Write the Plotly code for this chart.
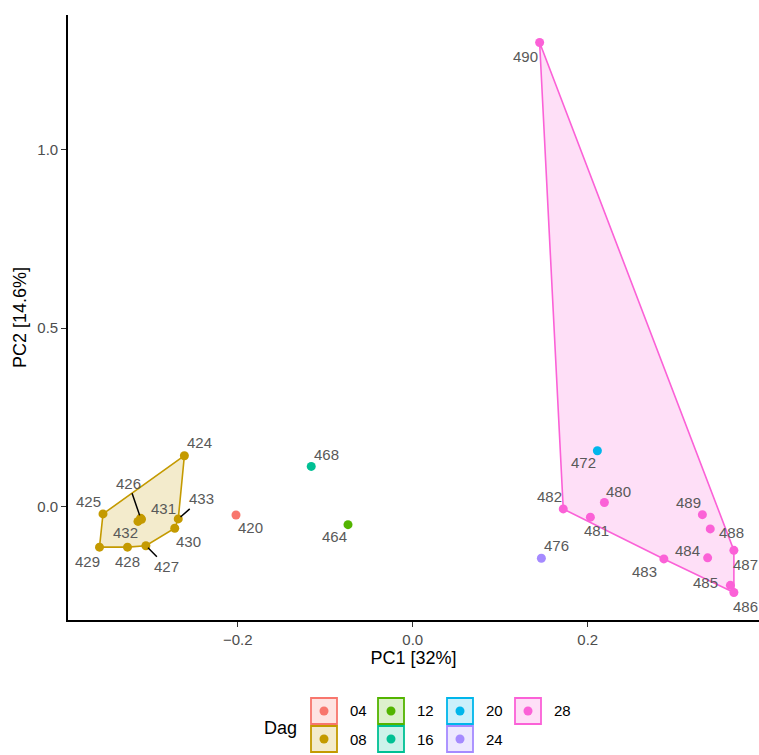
import plotly.graph_objects as go

# ---------------- data ----------------
sample_ids = ["420", "424", "425", "426", "431", "432", "433", "430", "429", "428", "427",
              "464", "468", "472", "476",
              "480", "481", "482", "483", "484", "485", "486", "487", "488", "489", "490"]
dag = ["04", "08", "08", "08", "08", "08", "08", "08", "08", "08", "08",
       "12", "16", "20", "24",
       "28", "28", "28", "28", "28", "28", "28", "28", "28", "28", "28"]
pc1 = [-0.202, -0.261, -0.354, -0.311, -0.310, -0.314, -0.268, -0.272, -0.358, -0.326, -0.305,
       -0.074, -0.116, 0.211, 0.147,
       0.219, 0.203, 0.172, 0.287, 0.337, 0.363, 0.367, 0.367, 0.340, 0.331, 0.145]
pc2 = [-0.023, 0.143, -0.020, -0.032, -0.035, -0.041, -0.034, -0.060, -0.113, -0.113, -0.109,
       -0.050, 0.113, 0.157, -0.144,
       0.012, -0.029, -0.006, -0.146, -0.143, -0.220, -0.240, -0.122, -0.062, -0.022, 1.300]

groups = ["04", "08", "12", "16", "20", "24", "28"]
group_colors = ["#F8766D", "#C49A00", "#53B400", "#00C094", "#00B6EB", "#A58AFF", "#FB61D7"]

x_title = "PC1 [32%]"
y_title = "PC2 [14.6%]"
legend_title = "Dag"

# ---------------- label placement (style) ----------------
label_offsets = {
    "424": (15, -13), "425": (-15, -12), "426": (-12, -35), "431": (22, -11),
    "432": (-13, 11), "433": (23, -20), "430": (14, 13), "429": (-12, 14),
    "428": (0, 14), "427": (21, 21), "420": (14, 12), "468": (15, -12),
    "464": (-14, 12), "472": (-14, 12), "482": (-14, -12), "480": (14, -11),
    "481": (6, 13), "476": (15, -13), "489": (-14, -12), "488": (21, 4),
    "487": (12, 14), "484": (-20, -7), "483": (-19, 13), "485": (-25, -3),
    "486": (12, 14), "490": (-14, 14),
}
leader = {"426", "433", "427"}

FONT = "Liberation Sans, Arial, sans-serif"


def rgba(hex_color, a):
    h = hex_color.lstrip("#")
    r, g, b = int(h[0:2], 16), int(h[2:4], 16), int(h[4:6], 16)
    return f"rgba({r},{g},{b},{a})"


def convex_hull(pts):
    pts = sorted(set(pts))
    if len(pts) < 3:
        return pts

    def cross(o, a, b):
        return (a[0] - o[0]) * (b[1] - o[1]) - (a[1] - o[1]) * (b[0] - o[0])

    lower = []
    for p in pts:
        while len(lower) >= 2 and cross(lower[-2], lower[-1], p) <= 0:
            lower.pop()
        lower.append(p)
    upper = []
    for p in reversed(pts):
        while len(upper) >= 2 and cross(upper[-2], upper[-1], p) <= 0:
            upper.pop()
        upper.append(p)
    return lower[:-1] + upper[:-1]


fig = go.Figure()

# hulls
for g, col in zip(groups, group_colors):
    pts = [(x, y) for x, y, d in zip(pc1, pc2, dag) if d == g]
    if len(pts) >= 3:
        hull = convex_hull(pts)
        hull.append(hull[0])
        fig.add_trace(go.Scatter(
            x=[p[0] for p in hull], y=[p[1] for p in hull],
            mode="lines", fill="toself", fillcolor=rgba(col, 0.2),
            line=dict(color=col, width=1.6), hoverinfo="skip", showlegend=False))

# points
for g, col in zip(groups, group_colors):
    xs = [x for x, d in zip(pc1, dag) if d == g]
    ys = [y for y, d in zip(pc2, dag) if d == g]
    ids = [s for s, d in zip(sample_ids, dag) if d == g]
    fig.add_trace(go.Scatter(
        x=xs, y=ys, mode="markers", text=ids, name=g,
        marker=dict(color=col, size=9, line=dict(width=0)), showlegend=False))

# labels
annotations = []
for s, x, y in zip(sample_ids, pc1, pc2):
    dx, dy = label_offsets.get(s, (12, -12))
    annotations.append(dict(
        x=x, y=y, xref="x", yref="y", text=s, showarrow=True,
        ax=dx, ay=dy, arrowhead=0, arrowwidth=1.5, standoff=3,
        arrowcolor="black" if s in leader else "rgba(0,0,0,0)",
        font=dict(family=FONT, size=15, color="#595959")))

# ---------------- layout geometry ----------------
W, H = 759, 755
ML, MR, MT, MB = 68, 0, 15, 135
PW, PH = W - ML - MR, H - MT - MB


def px_x(px):
    return (px - ML) / PW


def px_y(py):
    return (H - MB - py) / PH


# custom legend (2 rows, column-major like ggplot)
shapes = []
key = 28
col_x = [310, 377, 446, 514]
row_y = [697, 725]
for i, (g, col) in enumerate(zip(groups, group_colors)):
    c, r = i // 2, i % 2
    x0, y0 = col_x[c], row_y[r]
    shapes.append(dict(type="rect", xref="paper", yref="paper",
                       x0=px_x(x0 + 1), x1=px_x(x0 + key - 1),
                       y0=px_y(y0 + key - 1), y1=px_y(y0 + 1),
                       line=dict(color=col, width=1.8), fillcolor=rgba(col, 0.2)))
    cx, cy = x0 + key / 2, y0 + key / 2
    rr = 4.5
    shapes.append(dict(type="circle", xref="paper", yref="paper",
                       x0=px_x(cx - rr), x1=px_x(cx + rr),
                       y0=px_y(cy + rr), y1=px_y(cy - rr),
                       line=dict(width=0), fillcolor=col))
    annotations.append(dict(x=px_x(x0 + key + 10), y=px_y(cy), xref="paper", yref="paper",
                            text=g, showarrow=False, xanchor="left", yanchor="middle",
                            font=dict(family=FONT, size=15, color="black")))
annotations.append(dict(x=px_x(299), y=px_y(728), xref="paper", yref="paper",
                        text=legend_title, showarrow=False, xanchor="right", yanchor="middle",
                        font=dict(family=FONT, size=18, color="black")))

fig.update_layout(
    width=W, height=H,
    margin=dict(l=ML, r=MR, t=MT, b=MB),
    plot_bgcolor="white", paper_bgcolor="white",
    font=dict(family=FONT, size=15, color="#4D4D4D"),
    showlegend=False,
    annotations=annotations,
    shapes=shapes,
    xaxis=dict(range=[-0.394, -0.394 + PW / 875.0], tickvals=[-0.2, 0.0, 0.2],
               ticktext=["\u22120.2", "0.0", "0.2"],
               showline=True, linecolor="black", linewidth=1.6, mirror=False,
               ticks="outside", ticklen=5, tickcolor="#333333", tickwidth=1.2,
               showgrid=False, zeroline=False,
               tickfont=dict(family=FONT, size=15, color="#4D4D4D"),
               title=dict(text=x_title, font=dict(family=FONT, size=18, color="black"), standoff=4)),
    yaxis=dict(range=[-0.317, 1.377], tickvals=[0.0, 0.5, 1.0],
               ticktext=["0.0", "0.5", "1.0"],
               showline=True, linecolor="black", linewidth=1.6, mirror=False,
               ticks="outside", ticklen=5, tickcolor="#333333", tickwidth=1.2,
               showgrid=False, zeroline=False,
               tickfont=dict(family=FONT, size=15, color="#4D4D4D"),
               title=dict(text=y_title, font=dict(family=FONT, size=18, color="black"), standoff=6)),
)

fig.write_html(
    "out.html",
    config={"displayModeBar": False},
    post_script="document.body.style.margin='0';document.body.style.overflow='hidden';",
)
